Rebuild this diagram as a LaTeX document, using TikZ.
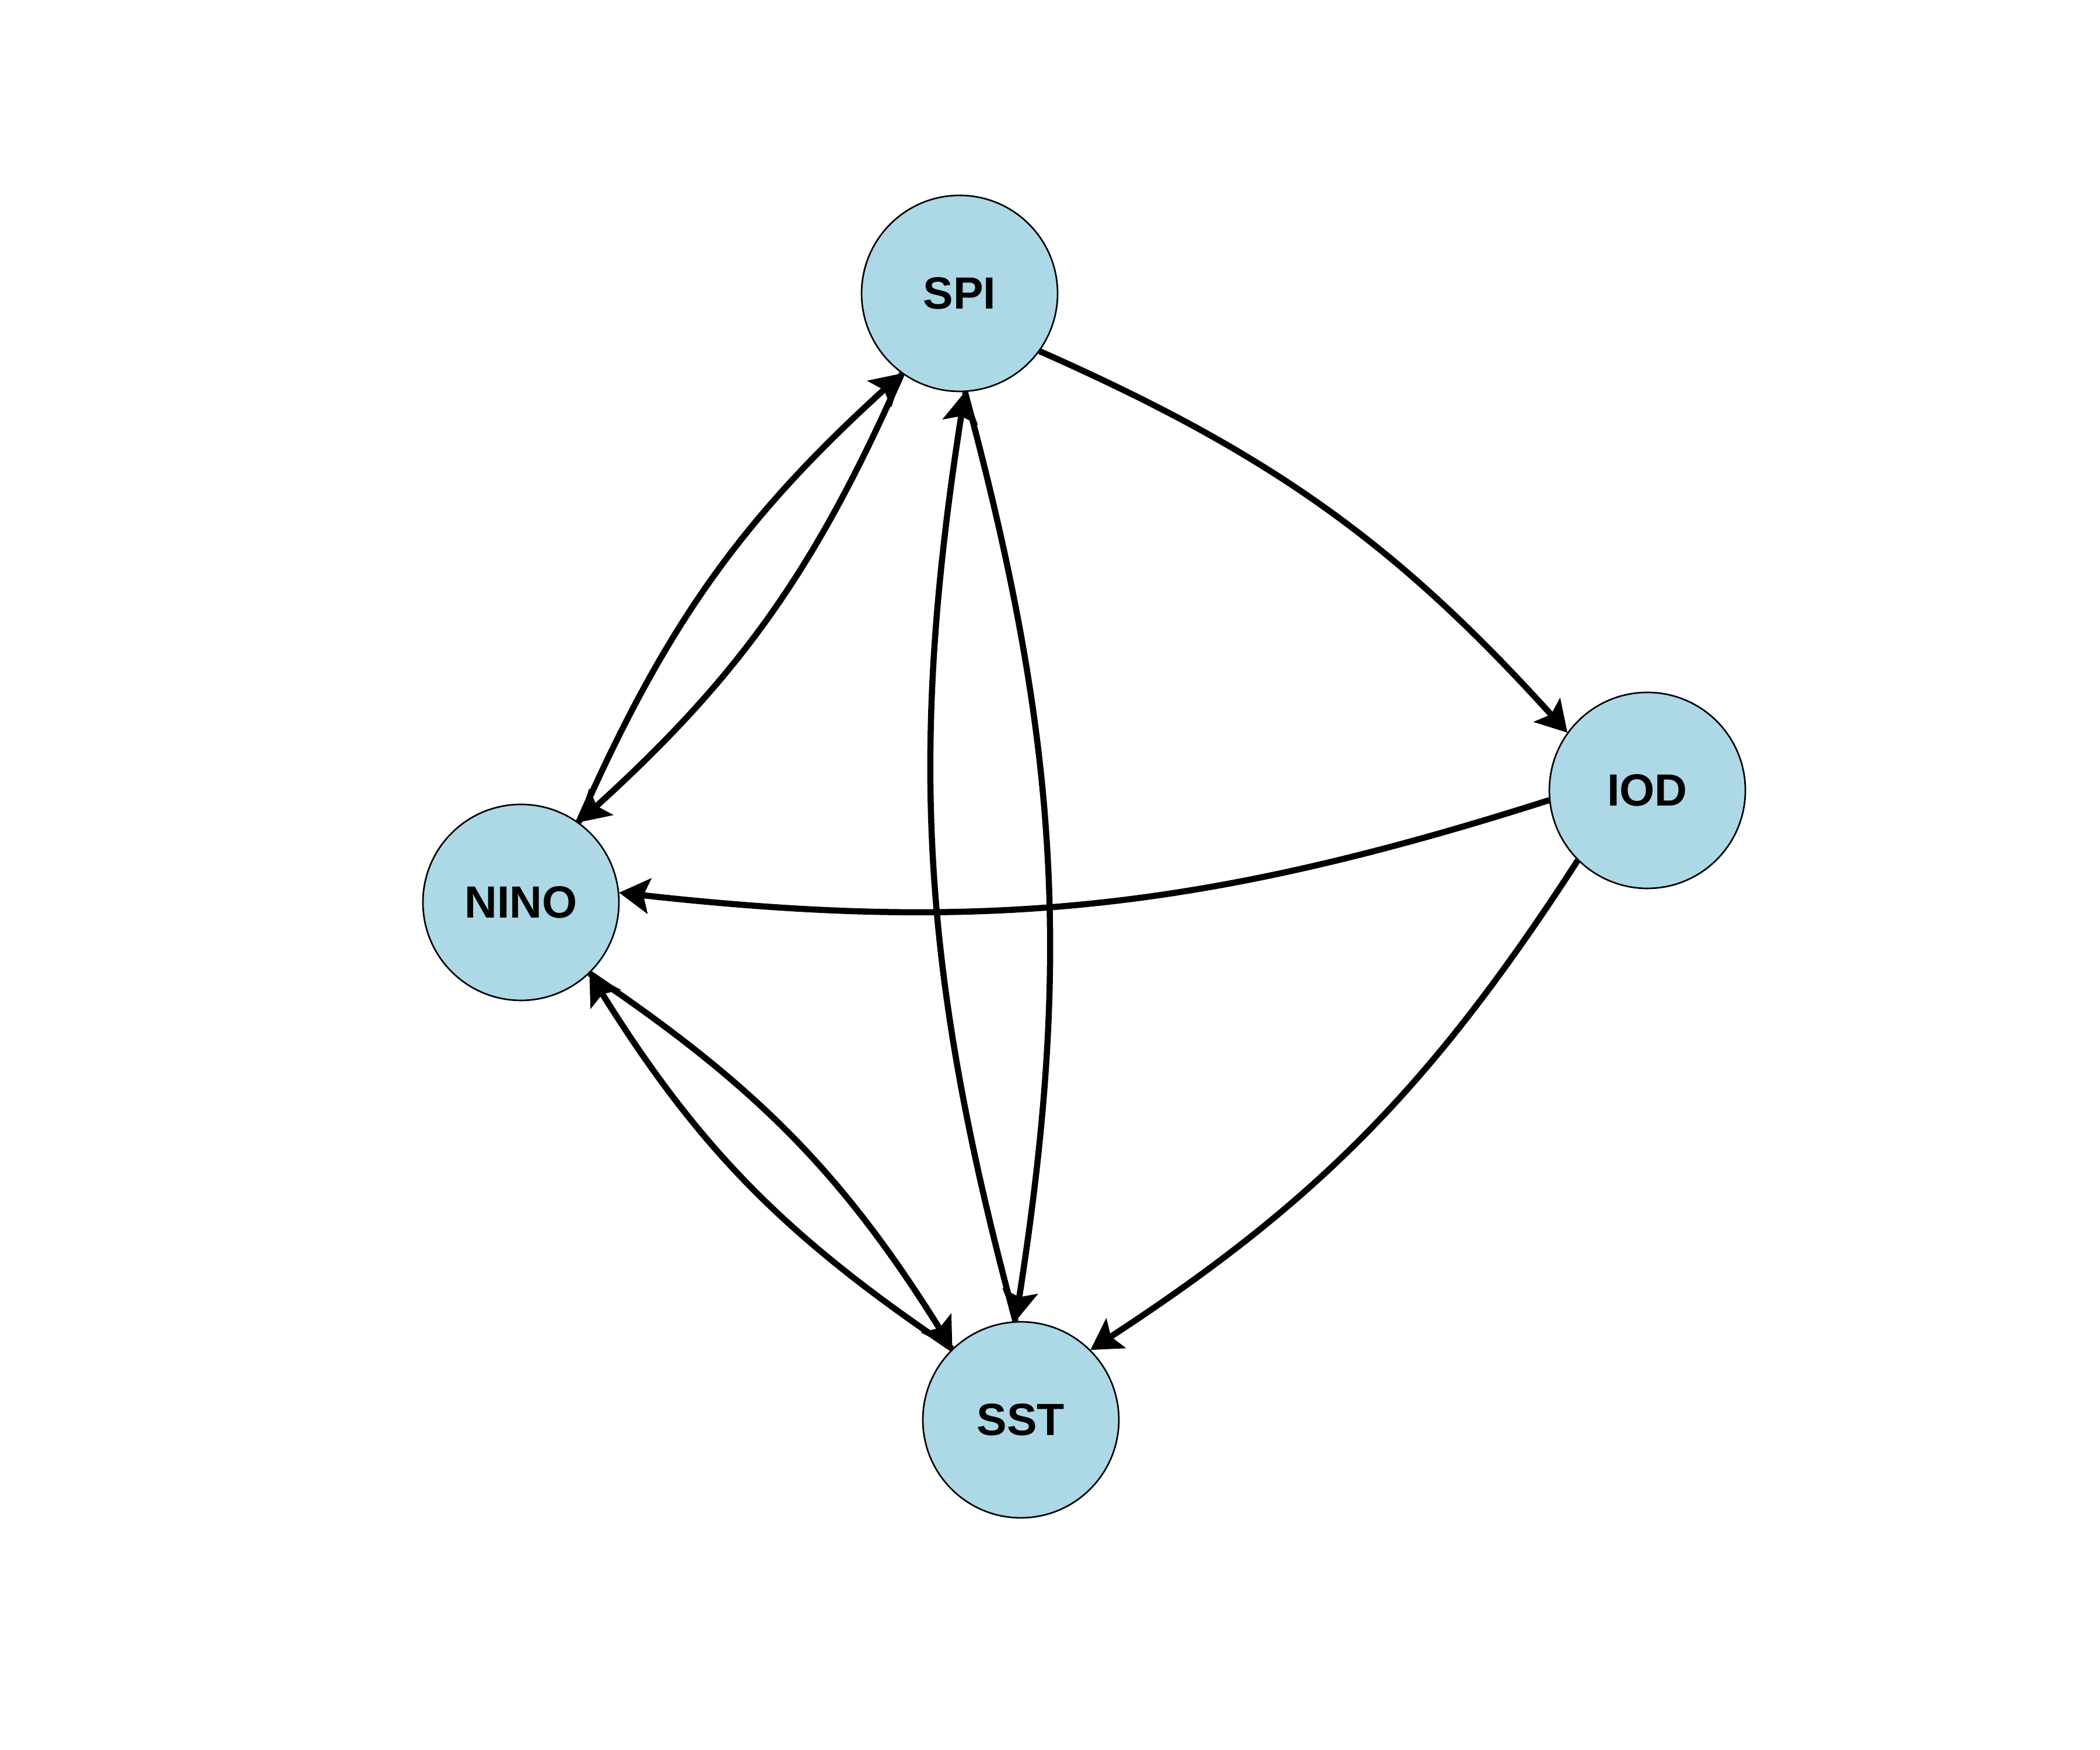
\documentclass[tikz,border=0pt]{standalone}
\usepackage{fontspec}
\setmainfont{Liberation Sans}
\usetikzlibrary{arrows.meta,calc}
\definecolor{nodeblue}{RGB}{173,216,230}
\begin{document}
\begin{tikzpicture}[
  vert/.style={circle, draw=black, line width=0.027cm, fill=nodeblue,
    minimum size=3.36cm, inner sep=0pt,
    font=\fontsize{22}{26}\selectfont\bfseries},
  link/.style={line width=0.105cm, line join=round,
    -{Stealth[length=0.52cm,width=0.6cm,inset=0.1cm]}, bend left=12},
]
\useasboundingbox (0,0) rectangle (36,30);
\fill[white] (0,0) rectangle (36,30);
\def\nodeR{1.69cm}
\node[vert] (SPI)  at (16.45,24.97) {SPI};
\node[vert] (IOD)  at (28.24,16.45) {IOD};
\node[vert] (NINO) at (8.93,14.53)  {NINO};
\node[vert] (SST)  at (17.50,5.66)  {SST};
% single edges
\draw[link] ($(SPI)!\nodeR!(IOD)$) to ($(IOD)!\nodeR!(SPI)$);
\draw[link] ($(IOD)!\nodeR!(NINO)$) to ($(NINO)!\nodeR!(IOD)$);
\draw[link] ($(IOD)!\nodeR!(SST)$) to ($(SST)!\nodeR!(IOD)$);
% mutual pairs
\draw[link] ($(SPI)!\nodeR!(NINO)$) to ($(NINO)!\nodeR!(SPI)$);
\draw[link] ($(NINO)!\nodeR!(SPI)$) to ($(SPI)!\nodeR!(NINO)$);
\draw[link] ($(SPI)!\nodeR!(SST)$) to ($(SST)!\nodeR!(SPI)$);
\draw[link] ($(SST)!\nodeR!(SPI)$) to ($(SPI)!\nodeR!(SST)$);
\draw[link] ($(NINO)!\nodeR!(SST)$) to ($(SST)!\nodeR!(NINO)$);
\draw[link] ($(SST)!\nodeR!(NINO)$) to ($(NINO)!\nodeR!(SST)$);
\end{tikzpicture}
\end{document}
